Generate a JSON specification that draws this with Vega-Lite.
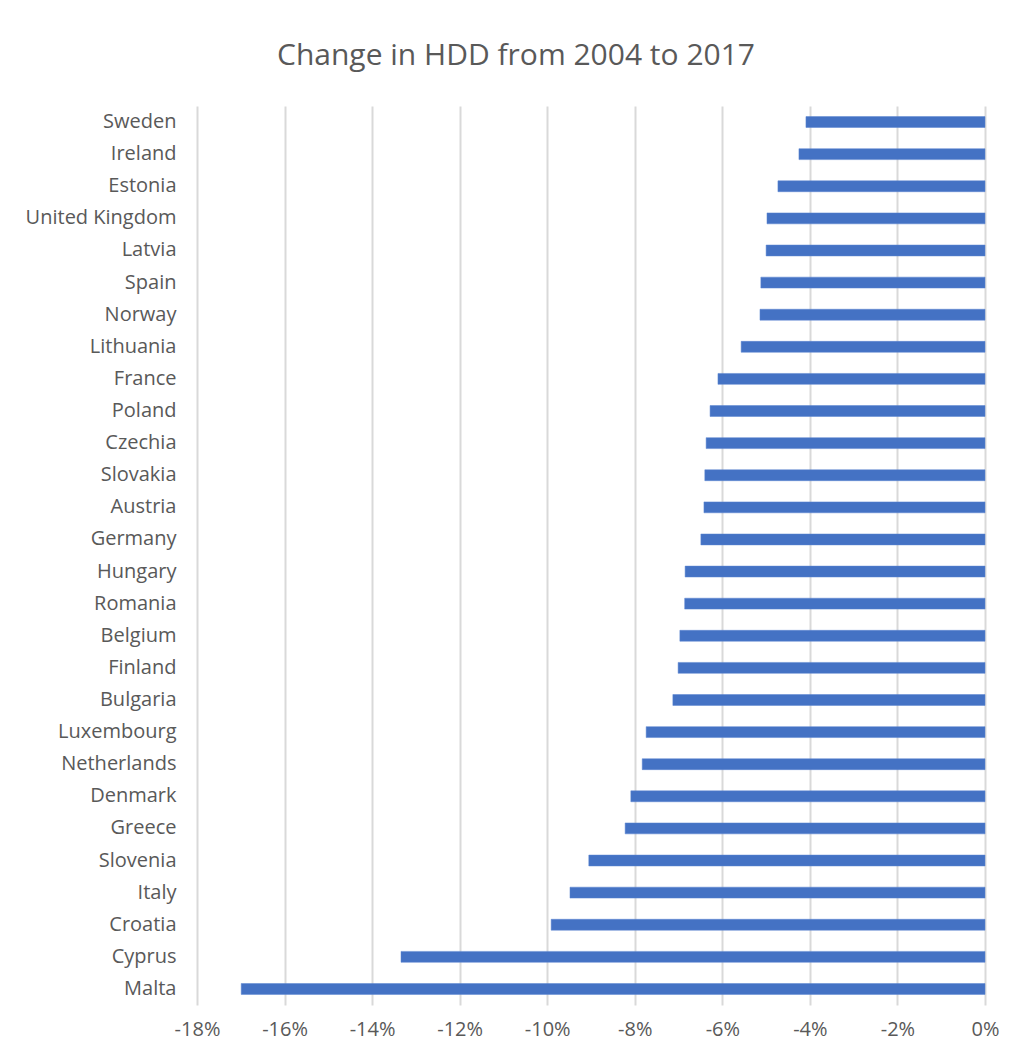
{
  "$schema": "https://vega.github.io/schema/vega-lite/v6.json",
  "width": 788,
  "height": 899,
  "autosize": "none",
  "padding": {"left": 197, "top": 106, "right": 27, "bottom": 54},
  "background": "white",
  "title": {
    "text": "Change in HDD from 2004 to 2017",
    "font": "Open Sans",
    "fontSize": 30,
    "fontWeight": "normal",
    "color": "#595959",
    "anchor": "middle",
    "baseline": "alphabetic",
    "offset": 11,
    "dx": -75
  },
  "data": {
    "values": [
      {"country": "Sweden", "change": -0.0409},
      {"country": "Ireland", "change": -0.0425},
      {"country": "Estonia", "change": -0.0473},
      {"country": "United Kingdom", "change": -0.0498},
      {"country": "Latvia", "change": -0.0500},
      {"country": "Spain", "change": -0.0512},
      {"country": "Norway", "change": -0.0514},
      {"country": "Lithuania", "change": -0.0557},
      {"country": "France", "change": -0.0610},
      {"country": "Poland", "change": -0.0628},
      {"country": "Czechia", "change": -0.0637},
      {"country": "Slovakia", "change": -0.0640},
      {"country": "Austria", "change": -0.0642},
      {"country": "Germany", "change": -0.0649},
      {"country": "Hungary", "change": -0.0685},
      {"country": "Romania", "change": -0.0686},
      {"country": "Belgium", "change": -0.0697},
      {"country": "Finland", "change": -0.0701},
      {"country": "Bulgaria", "change": -0.0713},
      {"country": "Luxembourg", "change": -0.0774},
      {"country": "Netherlands", "change": -0.0783},
      {"country": "Denmark", "change": -0.0809},
      {"country": "Greece", "change": -0.0822},
      {"country": "Slovenia", "change": -0.0905},
      {"country": "Italy", "change": -0.0948},
      {"country": "Croatia", "change": -0.0991},
      {"country": "Cyprus", "change": -0.1334},
      {"country": "Malta", "change": -0.1699}
    ]
  },
  "mark": {"type": "bar", "color": "#4472C4", "stroke": "#5b85d0", "strokeWidth": 0.5},
  "encoding": {
    "y": {
      "field": "country",
      "type": "nominal",
      "sort": null,
      "title": null,
      "scale": {"paddingInner": 0.66, "paddingOuter": 0.33},
      "axis": {
        "domain": false,
        "ticks": false,
        "grid": false,
        "labelFont": "Open Sans",
        "labelFontSize": 20,
        "labelColor": "#595959",
        "labelPadding": 21,
        "labelLimit": 300
      }
    },
    "x": {
      "field": "change",
      "type": "quantitative",
      "title": null,
      "scale": {"domain": [-0.18, 0], "nice": false, "zero": true},
      "axis": {
        "values": [-0.18, -0.16, -0.14, -0.12, -0.10, -0.08, -0.06, -0.04, -0.02, 0],
        "labelExpr": "(datum.value < -0.0001 ? '-' : '') + abs(round(datum.value*100)) + '%'",
        "domain": false,
        "ticks": false,
        "grid": true,
        "gridColor": "#d9d9d9",
        "gridWidth": 2,
        "labelFont": "Open Sans",
        "labelFontSize": 20,
        "labelColor": "#595959",
        "labelPadding": 14,
        "labelFlush": false
      }
    }
  },
  "config": {"view": {"stroke": null}}
}
